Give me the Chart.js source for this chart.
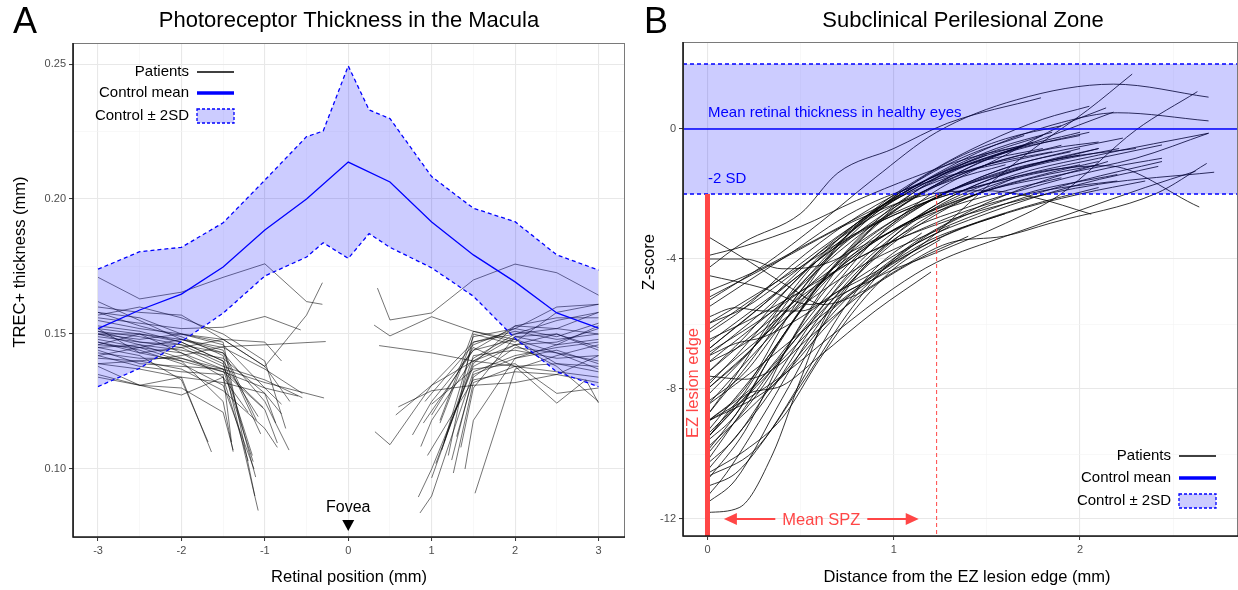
<!DOCTYPE html>
<html>
<head>
<meta charset="utf-8">
<script src="https://cdn.jsdelivr.net/npm/chart.js@4.4.1/dist/chart.umd.min.js"></script>
<style>
  html, body { margin: 0; padding: 0; background: #fff; }
  #wrap { position: relative; width: 1238px; height: 590px; overflow: hidden; }
  #chartA { position: absolute; left: 0; top: 0; }
  #chartB { position: absolute; left: 640px; top: 0; }
</style>
</head>
<body>
<div id="wrap">
  <canvas id="chartA" width="640" height="590"></canvas>
  <canvas id="chartB" width="598" height="590"></canvas>
</div>
<script>
// ---------- Panel A data (retinal position mm, thickness mm) ----------
const ticksAx = [-3, -2.5, -2, -1.5, -1, -0.5, 0, 0.5, 1, 1.5, 2, 2.5, 3];
const ticksAy = [0.1, 0.125, 0.15, 0.175, 0.2, 0.225, 0.25];

const ctrlPos = [-3, -2.5, -2, -1.5, -1, -0.5, 0, 0.5, 1, 1.5, 2, 2.5, 3];
const ctrlMean = [0.152, 0.1589, 0.1648, 0.1748, 0.1885, 0.200, 0.2137, 0.2063, 0.1915, 0.1793, 0.1693, 0.1578, 0.1522];

const bandPos = [-3, -2.5, -2, -1.5, -1, -0.5, -0.3, 0, 0.25, 0.5, 1, 1.5, 2, 2.5, 3];
const bandUpper = [0.174, 0.1805, 0.1821, 0.1912, 0.207, 0.2231, 0.2252, 0.2493, 0.233, 0.2298, 0.2083, 0.1966, 0.1916, 0.1793, 0.1737];
const bandLower = [0.1305, 0.1373, 0.1472, 0.1577, 0.1715, 0.1785, 0.1838, 0.178, 0.1872, 0.1821, 0.1745, 0.164, 0.1484, 0.136, 0.1305];

const leftPatients = [
  [[-3,0.171],[-2.5,0.163],[-2,0.1655],[-1.5,0.171],[-1,0.176],[-0.5,0.162],[-0.31,0.161]],
  [[-3,0.150],[-2.5,0.148],[-2,0.150],[-1.5,0.148],[-1,0.138],[-0.5,0.157],[-0.31,0.169]],
  [[-3,0.141],[-2.5,0.140],[-2,0.142],[-1.5,0.1453],[-1,0.146],[-0.27,0.1472]],
  [[-3,0.156],[-2.5,0.154],[-2,0.152],[-1.5,0.1525],[-1,0.1565],[-0.57,0.1515]],
  [[-3,0.147],[-2.5,0.143],[-2,0.145],[-1.5,0.138],[-1,0.133],[-0.55,0.1264]],
  [[-3,0.144],[-2.5,0.139],[-2,0.138],[-1.5,0.137],[-1,0.132],[-0.29,0.1263]],
  [[-3,0.152],[-2.5,0.150],[-2,0.147],[-1.5,0.140],[-1.08,0.0846]],
  [[-3,0.158],[-2.5,0.153],[-2,0.149],[-1.5,0.142],[-1.11,0.097]],
  [[-3,0.146],[-2.5,0.145],[-2,0.143],[-1.5,0.137],[-1.14,0.1027]],
  [[-3,0.149],[-2.5,0.147],[-2,0.146],[-1.5,0.139],[-1.15,0.105]],
  [[-3,0.139],[-2.5,0.137],[-2,0.134],[-1.64,0.1063]],
  [[-3,0.148],[-2.5,0.145],[-2,0.140],[-1.5,0.125],[-1.38,0.1064]],
  [[-3,0.143],[-2.5,0.141],[-2,0.141],[-1.5,0.136],[-1,0.122],[-0.85,0.1096]],
  [[-3,0.151],[-2.5,0.149],[-2,0.146],[-1.5,0.143],[-1,0.125],[-0.71,0.107]],
  [[-3,0.145],[-2.5,0.146],[-2,0.144],[-1.5,0.141],[-1,0.128],[-0.8,0.1204]],
  [[-3,0.153],[-2.5,0.151],[-2,0.147],[-1.5,0.140],[-1.08,0.1194]],
  [[-3,0.150],[-2.5,0.146],[-2,0.141],[-1.5,0.137],[-1.02,0.1228]],
  [[-3,0.158],[-2.5,0.156],[-2,0.150],[-1.5,0.146],[-1,0.130],[-0.8,0.124]],
  [[-3,0.135],[-2.5,0.131],[-2,0.134],[-1.5,0.132],[-1,0.128],[-0.87,0.117]],
  [[-3,0.162],[-2.5,0.155],[-2,0.148],[-1.5,0.145],[-1,0.137],[-0.55,0.128]],
  [[-3,0.138],[-2.5,0.131],[-2,0.1274],[-1.5,0.134],[-1.2,0.121]],
  [[-3,0.155],[-2.5,0.152],[-2,0.150],[-1.5,0.147],[-1.12,0.090]],
  [[-3,0.147],[-2.5,0.144],[-2,0.139],[-1.5,0.131],[-1.13,0.100]],
  [[-3,0.142],[-2.5,0.138],[-2,0.136],[-1.5,0.135],[-1.4,0.110]],
  [[-3,0.160],[-2.5,0.158],[-2,0.157],[-1.5,0.148],[-1,0.147],[-0.8,0.140]],
  [[-3,0.139],[-2.5,0.140],[-2,0.137],[-1.5,0.129],[-1,0.115],[-0.85,0.108]],
  [[-3,0.157],[-2.5,0.160],[-2,0.156],[-1.5,0.150],[-1,0.140],[-0.75,0.115]],
  [[-3,0.134],[-2.5,0.131],[-2,0.130],[-1.5,0.121],[-1.38,0.107]],
  [[-3,0.150],[-2.5,0.150],[-2,0.143],[-1.5,0.134],[-1.2,0.103]],
  [[-3,0.145],[-2.5,0.142],[-2,0.133],[-1.68,0.110]],
  [[-3,0.151],[-2.5,0.147],[-2,0.145],[-1.5,0.148],[-1,0.138],[-0.7,0.125]],
  [[-3,0.146],[-2.5,0.150],[-2,0.148],[-1.5,0.144],[-1.1,0.118]],
  [[-3,0.142],[-2.5,0.145],[-2,0.148],[-1.5,0.143],[-1.05,0.113]],
  [[-3,0.152],[-2.5,0.143],[-2,0.140],[-1.5,0.136],[-1,0.130],[-0.6,0.127]]
];

const rightPatients = [
  [[0.35,0.167],[0.5,0.1552],[1,0.1578],[1.5,0.170],[2,0.1759],[2.5,0.1727],[3,0.1644]],
  [[0.31,0.1533],[0.5,0.1493],[1,0.1564],[1.5,0.151],[2,0.148],[2.5,0.143],[3,0.140]],
  [[0.37,0.1457],[1,0.143],[1.5,0.140],[2,0.138],[2.5,0.136],[3,0.134]],
  [[0.32,0.1138],[0.5,0.109],[1,0.131],[1.5,0.140],[2,0.146],[2.5,0.138],[3,0.125]],
  [[0.57,0.120],[1,0.131],[1.5,0.147],[2,0.151],[2.5,0.148],[3,0.150]],
  [[0.77,0.1126],[1,0.125],[1.5,0.144],[2,0.153],[2.5,0.156],[3,0.156]],
  [[0.87,0.1083],[1,0.118],[1.5,0.141],[2,0.150],[2.5,0.152],[3,0.158]],
  [[0.84,0.0896],[1,0.100],[1.5,0.138],[2,0.146],[2.5,0.147],[3,0.152]],
  [[0.86,0.0837],[1,0.090],[1.5,0.136],[2,0.142],[2.5,0.145],[3,0.147]],
  [[1.0,0.0967],[1.5,0.140],[2,0.149],[2.5,0.150],[3,0.145]],
  [[1.12,0.107],[1.5,0.142],[2,0.144],[2.5,0.141],[3,0.142]],
  [[1.24,0.1033],[1.5,0.135],[2,0.141],[2.5,0.146],[3,0.148]],
  [[1.26,0.0985],[1.5,0.132],[2,0.138],[2.5,0.139],[3,0.138]],
  [[1.52,0.091],[2,0.137],[2.5,0.142],[3,0.146]],
  [[0.92,0.125],[1,0.128],[1.5,0.146],[2,0.152],[2.5,0.160],[3,0.161]],
  [[1.0,0.120],[1.5,0.145],[2,0.138],[2.5,0.1244],[2.85,0.133],[3,0.1245]],
  [[0.95,0.105],[1.5,0.133],[2,0.136],[2.5,0.135],[3,0.132]],
  [[1.1,0.117],[1.5,0.149],[2,0.152],[2.5,0.149],[3,0.154]],
  [[1.15,0.110],[1.5,0.147],[2,0.150],[2.5,0.155],[3,0.158]],
  [[1.05,0.102],[1.5,0.139],[2,0.153],[2.5,0.152],[3,0.150]],
  [[1.2,0.105],[1.5,0.150],[2,0.146],[2.5,0.150],[3,0.144]],
  [[1.3,0.112],[1.5,0.134],[2,0.145],[2.5,0.143],[3,0.137]],
  [[0.9,0.117],[1.5,0.144],[2,0.148],[2.5,0.139],[3,0.136]],
  [[0.6,0.123],[1,0.129],[1.5,0.131],[2,0.132],[2.5,0.135],[3,0.142]],
  [[1.4,0.100],[1.5,0.118],[2,0.141],[2.5,0.144],[3,0.139]],
  [[1.1,0.118],[1.5,0.151],[2,0.147],[2.5,0.158],[3,0.161]],
  [[1.35,0.108],[1.5,0.130],[2,0.149],[2.5,0.146],[3,0.153]],
  [[1.0,0.124],[1.5,0.137],[2,0.139],[2.5,0.128],[3,0.130]]
];

// ---------- Panel B data (distance mm, z-score) ----------
const ticksBx = [0, 0.5, 1, 1.5, 2, 2.5];
const ticksBy = [-12, -10, -8, -6, -4, -2, 0, 2];
const ctrlZ = 0;
const ctrlZlow = -2;
const ctrlZhigh = 2;
const meanSPZ = 1.23;

const curvesB = [
  [[0,-5.3],[0.3,-4.2],[0.6,-2.9],[0.9,-1.5],[1.23,-0.1],[1.66,0.9],[2.18,1.38],[2.69,0.98]],
  [[0,-9.5],[0.35,-7.4],[0.7,-5.4],[1.0,-4.2],[1.23,-3.2],[1.4,-2.3],[1.56,-1.47],[1.79,-0.44],[2.04,0.58],[2.28,1.69]],
  [[0,-11.8],[0.17,-11.65],[0.35,-10],[0.5,-7.7],[0.65,-5.6],[0.9,-4.6],[1.23,-3.8],[1.6,-2.9],[1.89,-2.03],[2.3,-0.03],[2.63,1.15]],
  [[0,-6.8],[0.3,-5.4],[0.7,-3.6],[1.1,-2.4],[1.5,-1.7],[1.85,-1.25],[2.14,-1.13],[2.64,-2.4]],
  [[0,-5.2],[0.4,-4.0],[0.8,-2.8],[1.2,-2.0],[1.5,-1.9],[1.75,-2.1],[2.06,-2.62]],
  [[0,-7.5],[0.4,-5.6],[0.8,-4.0],[1.2,-3.0],[1.6,-2.3],[2.1,-1.7],[2.72,-1.33]],
  [[0,-9],[0.35,-7.8],[0.7,-6.2],[1.0,-4.9],[1.23,-4.1],[1.6,-3.3],[2.0,-2.5],[2.35,-1.8],[2.62,-1.3]],
  [[0,-8.5],[0.3,-6.6],[0.7,-4.3],[1.1,-2.8],[1.5,-1.9],[1.9,-1.4],[2.3,-0.9],[2.69,-0.13]],
  [[0,-10.2],[0.4,-7.0],[0.8,-4.3],[1.2,-2.5],[1.6,-1.5],[2.1,-0.8],[2.69,-0.13]],
  [[0,-6.2],[0.3,-5.0],[0.7,-3.3],[1.1,-1.8],[1.5,-0.6],[1.9,0.2],[2.2,0.5],[2.69,0.25]],
  [[0,-4.3],[0.19,-3.5],[0.5,-2.6],[0.7,-1.35],[1.0,-0.6],[1.29,0.18],[1.79,0.96]],
  [[0,-9.5],[0.3,-7.6],[0.6,-5.4],[0.9,-3.4],[1.2,-2.0],[1.6,-0.8],[1.9,0.1],[2.14,0.65]],
  [[0,-7.2],[0.35,-5.6],[0.7,-3.8],[1.0,-2.5],[1.4,-1.2],[1.8,-0.3],[2.18,0.52]],
  [[0,-8.8],[0.25,-7.0],[0.55,-4.6],[0.85,-2.7],[1.2,-1.3],[1.5,-0.4],[1.8,0.3],[2.05,0.7]],
  [[0,-6],[0.4,-4.6],[0.8,-3.2],[1.2,-2.2],[1.7,-1.4],[2.1,-0.9],[2.44,-0.49]],
  [[0,-10.5],[0.3,-8.4],[0.65,-5.4],[1.0,-3.4],[1.4,-2.4],[1.8,-1.7],[2.15,-1.2],[2.44,-0.9]],
  [[0,-7.8],[0.4,-5.9],[0.8,-4.3],[1.2,-3.2],[1.6,-2.3],[2.0,-1.6],[2.44,-1.0]],
  [[0,-9.8],[0.35,-7.9],[0.75,-5.2],[1.1,-3.6],[1.5,-2.6],[2.0,-1.7],[2.42,-1.15]],
  [[0,-5.5],[0.4,-4.0],[0.8,-2.5],[1.2,-1.6],[1.7,-0.9],[2.23,-0.28]],
  [[0,-6.6],[0.4,-4.9],[0.8,-3.2],[1.2,-2.1],[1.7,-1.2],[2.21,-0.6]],
  [[0,-9.0],[0.2,-8.0],[0.45,-5.6],[0.7,-3.6],[1.0,-2.1],[1.3,-1.0],[1.6,-0.3],[1.9,0.1]],
  [[0,-8.2],[0.25,-6.7],[0.5,-4.8],[0.8,-3.0],[1.1,-1.7],[1.4,-0.8],[1.7,-0.2]],
  [[0,-10.8],[0.2,-9.3],[0.45,-6.5],[0.75,-3.9],[1.05,-2.2],[1.4,-1.0],[1.8,-0.2]],
  [[0,-9.3],[0.3,-7.2],[0.6,-4.8],[0.9,-3.0],[1.2,-1.8],[1.6,-0.7],[2.0,-0.1]],
  [[0,-7.0],[0.3,-5.6],[0.6,-4.0],[0.95,-2.4],[1.3,-1.3],[1.7,-0.5]],
  [[0,-8.0],[0.3,-6.4],[0.6,-4.3],[0.9,-2.6],[1.2,-1.5],[1.55,-0.6],[1.85,-0.1]],
  [[0,-6.8],[0.3,-5.4],[0.6,-3.8],[0.9,-2.5],[1.2,-1.5],[1.5,-0.8]],
  [[0,-9.6],[0.15,-8.8],[0.4,-6.4],[0.65,-4.4],[0.95,-2.6],[1.25,-1.5],[1.6,-0.7],[2.0,-0.2]],
  [[0,-10.0],[0.3,-7.9],[0.6,-5.2],[0.9,-3.4],[1.2,-2.2],[1.6,-1.2],[2.0,-0.6]],
  [[0,-11.5],[0.15,-10.8],[0.4,-8.3],[0.7,-5.3],[1.0,-3.3],[1.3,-2.1],[1.7,-1.2],[2.1,-0.6]],
  [[0,-10.7],[0.25,-9.9],[0.5,-7.9],[0.75,-5.7],[1.0,-4.0],[1.35,-2.7],[1.75,-1.7],[2.15,-1.0]],
  [[0,-9.0],[0.35,-7.9],[0.65,-6.0],[0.95,-4.3],[1.23,-3.1],[1.7,-2.0],[2.2,-1.4]],
  [[0,-8.5],[0.3,-7.2],[0.6,-5.8],[0.9,-4.5],[1.23,-3.4],[1.6,-2.6],[2.0,-2.0],[2.35,-1.6]],
  [[0,-3.3],[0.23,-4.1],[0.45,-4.9],[0.62,-5.4],[0.8,-5.1],[1.0,-4.4],[1.3,-3.5],[1.59,-3.3],[1.84,-2.9],[2.41,-1.98],[2.68,-1.06]],
  [[0,-4.5],[0.3,-4.9],[0.55,-5.4],[0.75,-5.0],[1.0,-4.1],[1.3,-3.2],[1.7,-2.4],[2.1,-1.8]],
  [[0,-4.0],[0.2,-4.0],[0.4,-4.3],[0.6,-4.2],[0.9,-3.4],[1.2,-2.6],[1.6,-1.9],[1.9,-1.5]],
  [[0,-5.8],[0.15,-5.5],[0.3,-5.6],[0.5,-5.6],[0.7,-5.0],[0.9,-4.4],[1.2,-3.4],[1.6,-2.6]],
  [[0,-7.0],[0.15,-6.6],[0.3,-6.4],[0.5,-5.8],[0.75,-4.8],[1.0,-3.9],[1.3,-3.0]],
  [[0,-7.6],[0.2,-7.7],[0.35,-7.4],[0.55,-6.4],[0.8,-5.2],[1.1,-4.1],[1.4,-3.3]],
  [[0,-9.5],[0.2,-8.2],[0.4,-7.9],[0.6,-7.0],[0.9,-5.6],[1.2,-4.4]],
  [[0,-11.0],[0.15,-10.6],[0.3,-9.6],[0.5,-7.8],[0.7,-5.8],[0.9,-4.3],[1.15,-3.2]],
  [[0,-10.6],[0.2,-9.9],[0.4,-8.9],[0.6,-7.1],[0.8,-5.5],[1.0,-4.3],[1.25,-3.4]],
  [[0,-8.8],[0.15,-7.6],[0.35,-5.8],[0.55,-4.3],[0.8,-2.9],[1.1,-1.8],[1.4,-1.0],[1.75,-0.4]],
  [[0,-7.5],[0.2,-6.4],[0.45,-4.8],[0.7,-3.4],[1.0,-2.2],[1.35,-1.2],[1.75,-0.5],[2.05,-0.1]],
  [[0,-6.3],[0.2,-5.5],[0.45,-4.2],[0.75,-2.9],[1.05,-1.9],[1.4,-1.1],[1.8,-0.6]],
  [[0,-9.9],[0.15,-8.8],[0.35,-6.9],[0.6,-4.8],[0.85,-3.2],[1.15,-2.0],[1.5,-1.1],[1.9,-0.5]],
  [[0,-8.0],[0.2,-7.0],[0.45,-5.4],[0.7,-4.0],[1.0,-2.8],[1.3,-1.9],[1.65,-1.2],[2.0,-0.8]],
  [[0,-6.9],[0.25,-6.0],[0.55,-4.8],[0.85,-3.6],[1.2,-2.5],[1.6,-1.6],[2.0,-1.1]],
  [[0,-5.0],[0.25,-4.4],[0.55,-3.5],[0.85,-2.6],[1.15,-1.8],[1.5,-1.1],[1.85,-0.7]],
  [[0,-10.3],[0.15,-9.5],[0.35,-7.8],[0.6,-5.6],[0.85,-3.9],[1.15,-2.6],[1.45,-1.7],[1.8,-1.0],[2.1,-0.6]],
  [[0,-9.0],[0.25,-7.9],[0.5,-6.3],[0.75,-4.8],[1.0,-3.5],[1.3,-2.4],[1.65,-1.5]],
  [[0,-7.2],[0.2,-6.6],[0.45,-5.5],[0.7,-4.3],[1.0,-3.1],[1.35,-2.2],[1.75,-1.5],[2.1,-1.1]],
  [[0,-8.4],[0.2,-7.5],[0.4,-6.0],[0.65,-4.4],[0.95,-3.0],[1.3,-1.9],[1.65,-1.1],[1.95,-0.7]],
  [[0,-6.0],[0.2,-5.5],[0.4,-4.7],[0.65,-3.6],[0.95,-2.5],[1.3,-1.6],[1.6,-1.1]],
  [[0,-11.3],[0.1,-10.6],[0.3,-8.8],[0.55,-6.4],[0.8,-4.5],[1.1,-3.0],[1.45,-2.0],[1.8,-1.4],[2.1,-1.0]],
  [[0,-9.4],[0.15,-8.5],[0.35,-6.8],[0.6,-4.9],[0.9,-3.3],[1.2,-2.2],[1.55,-1.4],[1.9,-0.9],[2.3,-0.6]],
  [[0,-7.9],[0.15,-7.0],[0.35,-5.7],[0.6,-4.2],[0.9,-2.8],[1.2,-1.8],[1.5,-1.1],[1.85,-0.6],[2.1,-0.4]],
  [[0,-3.9],[0.2,-3.6],[0.5,-3.0],[0.8,-2.2],[1.1,-1.5],[1.4,-0.9],[1.7,-0.5]],
  [[0,-6.5],[0.25,-5.8],[0.5,-5.0],[0.8,-4.0],[1.1,-3.2],[1.4,-2.5],[1.8,-1.9],[2.2,-1.6]]
];

// ---------- common helpers ----------
const FONT = '"Liberation Sans", Arial, sans-serif';
const BLUE = '#0000ff';
const RED = '#ff4646';
const BAND = 'rgba(0,0,255,0.2)';
Chart.defaults.font.family = FONT;
Chart.defaults.color = '#4d4d4d';

const pts = arr => arr.map(p => ({ x: p[0], y: p[1] }));
const zip = (xs, ys) => xs.map((x, i) => ({ x: x, y: ys[i] }));

function escala(o) {
  return {
    type: 'linear',
    min: o.min,
    max: o.max,
    afterBuildTicks: axis => { axis.ticks = o.ticks.map(v => ({ value: v })); },
    afterFit: axis => {
      if (axis.isHorizontal()) axis.height = o.size; else axis.width = o.size;
    },
    border: { display: false },
    grid: {
      color: c => (c.tick && o.major(c.tick.value)) ? '#e8e8e8' : '#f3f3f3',
      lineWidth: c => (c.tick && o.major(c.tick.value)) ? 1.1 : 0.6,
      tickColor: c => (c.tick && o.major(c.tick.value)) ? '#333333' : 'rgba(0,0,0,0)',
      tickLength: 4,
      tickWidth: 1
    },
    ticks: {
      autoSkip: false,
      maxRotation: 0,
      padding: 3,
      font: { size: 11 },
      color: '#4d4d4d',
      callback: v => o.major(v) ? o.label(v) : ''
    }
  };
}

function marco(ctx, a) {
  ctx.strokeStyle = '#7a7a7a';
  ctx.lineWidth = 1;
  ctx.strokeRect(a.left + 0.5, a.top + 0.5, a.right - a.left - 1, a.bottom - a.top);
  ctx.strokeStyle = '#1a1a1a';
  ctx.lineWidth = 1.6;
  ctx.beginPath();
  ctx.moveTo(a.left, a.top);
  ctx.lineTo(a.left, a.bottom);
  ctx.lineTo(a.right, a.bottom);
  ctx.stroke();
}

function leyenda(ctx, textRight, x0, x1, yRows) {
  ctx.font = '15px ' + FONT;
  ctx.fillStyle = '#000';
  ctx.textAlign = 'right';
  ctx.textBaseline = 'middle';
  ctx.fillText('Patients', textRight, yRows[0]);
  ctx.fillText('Control mean', textRight, yRows[1]);
  ctx.fillText('Control \u00b1 2SD', textRight, yRows[2]);
  ctx.strokeStyle = '#000';
  ctx.lineWidth = 1.6;
  ctx.beginPath(); ctx.moveTo(x0, yRows[0]); ctx.lineTo(x1, yRows[0]); ctx.stroke();
  ctx.strokeStyle = BLUE;
  ctx.lineWidth = 3.5;
  ctx.beginPath(); ctx.moveTo(x0, yRows[1]); ctx.lineTo(x1, yRows[1]); ctx.stroke();
  ctx.fillStyle = BAND;
  ctx.fillRect(x0, yRows[2] - 7, x1 - x0, 14);
  ctx.strokeStyle = BLUE;
  ctx.lineWidth = 1.3;
  ctx.setLineDash([3, 2]);
  ctx.strokeRect(x0, yRows[2] - 7, x1 - x0, 14);
  ctx.setLineDash([]);
}

function textoVertical(ctx, txt, x, y) {
  ctx.save();
  ctx.translate(x, y);
  ctx.rotate(-Math.PI / 2);
  ctx.textAlign = 'center';
  ctx.textBaseline = 'alphabetic';
  ctx.fillText(txt, 0, 0);
  ctx.restore();
}

// ---------- Panel A ----------
function graficoA() {
  const decorA = {
    id: 'decorA',
    afterDraw(chart) {
      const { ctx, chartArea: a, scales: { x, y } } = chart;
      ctx.save();
      marco(ctx, a);
      ctx.fillStyle = '#000';
      ctx.textBaseline = 'alphabetic';
      ctx.textAlign = 'left';
      ctx.font = '36px ' + FONT;
      ctx.fillText('A', 13, 33);
      ctx.textAlign = 'center';
      ctx.font = '22px ' + FONT;
      ctx.fillText('Photoreceptor Thickness in the Macula', (a.left + a.right) / 2, 27);
      ctx.font = '16.5px ' + FONT;
      ctx.fillText('Retinal position (mm)', (a.left + a.right) / 2, 582);
      textoVertical(ctx, 'TREC+ thickness (mm)', 25, 262);
      // fovea marker
      const fx = x.getPixelForValue(0);
      ctx.font = '16px ' + FONT;
      ctx.fillText('Fovea', fx, 512);
      ctx.beginPath();
      ctx.moveTo(fx - 6, 520);
      ctx.lineTo(fx + 6, 520);
      ctx.lineTo(fx, 531);
      ctx.closePath();
      ctx.fill();
      leyenda(ctx, 189, 197, 234, [72, 93, 116]);
      ctx.restore();
    }
  };

  const datasets = [
    { data: zip(ctrlPos, ctrlMean), borderColor: BLUE, borderWidth: 1.3, order: 1 },
    { data: zip(bandPos, bandLower), borderColor: BLUE, borderWidth: 1.3, borderDash: [4, 3], order: 2 },
    { data: zip(bandPos, bandUpper), borderColor: BLUE, borderWidth: 1.3, borderDash: [4, 3],
      fill: 1, backgroundColor: BAND, order: 2 }
  ];
  leftPatients.concat(rightPatients).forEach(p => {
    datasets.push({ data: pts(p), borderColor: 'rgba(0,0,0,0.55)', borderWidth: 1, order: 3 });
  });

  new Chart(document.getElementById('chartA'), {
    type: 'line',
    data: { datasets: datasets },
    options: {
      responsive: false,
      animation: false,
      devicePixelRatio: 1,
      events: [],
      elements: { point: { radius: 0 }, line: { tension: 0 } },
      layout: { padding: { left: 0, top: 43, right: 15, bottom: 0 } },
      plugins: { legend: { display: false }, tooltip: { enabled: false } },
      scales: {
        x: escala({ min: -3.3, max: 3.318, ticks: ticksAx, size: 53,
          major: v => Math.abs(v - Math.round(v)) < 1e-6, label: v => String(Math.round(v)) }),
        y: escala({ min: 0.0748, max: 0.2578, ticks: ticksAy, size: 73,
          major: v => Math.abs(v * 20 - Math.round(v * 20)) < 1e-6, label: v => v.toFixed(2) })
      }
    },
    plugins: [decorA]
  });
}

// ---------- Panel B ----------
function graficoB() {
  const xMin = -0.1315, xMax = 2.848;
  const decorB = {
    id: 'decorB',
    afterDraw(chart) {
      const { ctx, chartArea: a, scales: { x, y } } = chart;
      ctx.save();
      marco(ctx, a);
      ctx.fillStyle = '#000';
      ctx.textBaseline = 'alphabetic';
      ctx.textAlign = 'left';
      ctx.font = '36px ' + FONT;
      ctx.fillText('B', 4, 33);
      ctx.textAlign = 'center';
      ctx.font = '22px ' + FONT;
      ctx.fillText('Subclinical Perilesional Zone', 323, 27);
      ctx.font = '16.5px ' + FONT;
      ctx.fillText('Distance from the EZ lesion edge (mm)', 327, 582);
      textoVertical(ctx, 'Z-score', 14, 262);

      // control labels
      ctx.fillStyle = BLUE;
      ctx.textAlign = 'left';
      ctx.font = '15px ' + FONT;
      ctx.fillText('Mean retinal thickness in healthy eyes', 68, 117);
      ctx.fillText('-2 SD', 68, 183);

      // lesion edge and mean SPZ annotations
      ctx.fillStyle = RED;
      ctx.strokeStyle = RED;
      ctx.font = '16.5px ' + FONT;
      textoVertical(ctx, 'EZ lesion edge', 58, 383);
      const ay = y.getPixelForValue(-12);
      const xl = x.getPixelForValue(0.088), xr = x.getPixelForValue(1.134);
      const xt = x.getPixelForValue(0.611);
      ctx.textAlign = 'center';
      ctx.fillText('Mean SPZ', xt, ay + 6);
      ctx.lineWidth = 2;
      ctx.beginPath();
      ctx.moveTo(xl + 10, ay); ctx.lineTo(xt - 46, ay);
      ctx.moveTo(xt + 46, ay); ctx.lineTo(xr - 10, ay);
      ctx.stroke();
      ctx.beginPath();
      ctx.moveTo(xl, ay); ctx.lineTo(xl + 13, ay - 6); ctx.lineTo(xl + 13, ay + 6); ctx.closePath();
      ctx.moveTo(xr, ay); ctx.lineTo(xr - 13, ay - 6); ctx.lineTo(xr - 13, ay + 6); ctx.closePath();
      ctx.fill();

      leyenda(ctx, 531, 539, 576, [456, 478, 501]);
      ctx.restore();
    }
  };

  const datasets = [
    { data: [{ x: xMin, y: ctrlZ }, { x: xMax, y: ctrlZ }], borderColor: BLUE, borderWidth: 1.3, order: 1 },
    { data: [{ x: 0, y: ctrlZlow }, { x: 0, y: -12.6 }], borderColor: RED, borderWidth: 5, order: 1 },
    { data: [{ x: meanSPZ, y: ctrlZlow }, { x: meanSPZ, y: -12.6 }], borderColor: RED, borderWidth: 1,
      borderDash: [4, 3], order: 1 },
    { data: [{ x: xMin, y: ctrlZlow }, { x: xMax, y: ctrlZlow }], borderColor: BLUE, borderWidth: 1.3,
      borderDash: [4, 3], order: 2 },
    { data: [{ x: xMin, y: ctrlZhigh }, { x: xMax, y: ctrlZhigh }], borderColor: BLUE, borderWidth: 1.3,
      borderDash: [4, 3], fill: 3, backgroundColor: BAND, order: 2 }
  ];
  curvesB.forEach(c => {
    datasets.push({ data: pts(c), borderColor: '#000', borderWidth: 0.8,
      cubicInterpolationMode: 'monotone', order: 3 });
  });

  new Chart(document.getElementById('chartB'), {
    type: 'line',
    data: { datasets: datasets },
    options: {
      responsive: false,
      animation: false,
      devicePixelRatio: 1,
      events: [],
      elements: { point: { radius: 0 } },
      layout: { padding: { left: 0, top: 42, right: 0, bottom: 0 } },
      plugins: { legend: { display: false }, tooltip: { enabled: false } },
      scales: {
        x: escala({ min: xMin, max: xMax, ticks: ticksBx, size: 54,
          major: v => Math.abs(v - Math.round(v)) < 1e-6, label: v => String(Math.round(v)) }),
        y: escala({ min: -12.523, max: 2.677, ticks: ticksBy, size: 43,
          major: v => Math.abs(v % 4) < 1e-6, label: v => String(v) })
      }
    },
    plugins: [decorB]
  });
}

window.addEventListener('DOMContentLoaded', () => {
  graficoA();
  graficoB();
});
</script>
</body>
</html>
